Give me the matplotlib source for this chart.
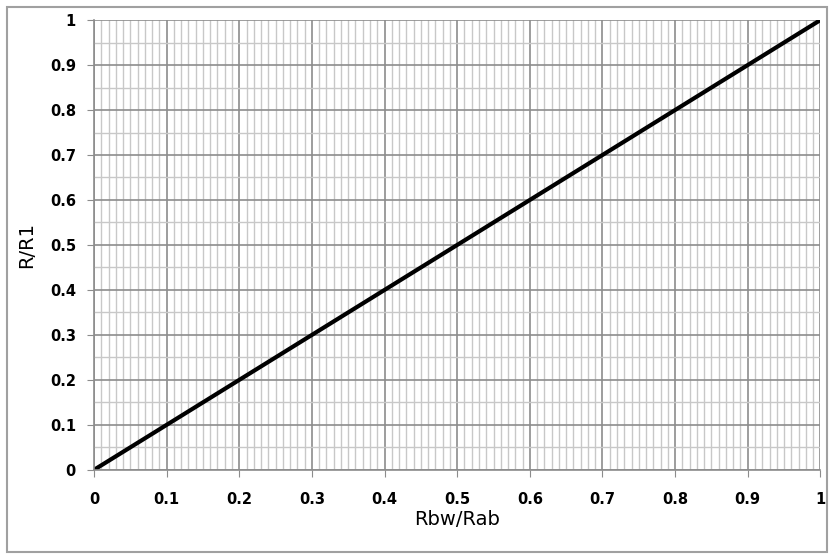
import matplotlib
matplotlib.use("Agg")
import matplotlib.pyplot as plt
from matplotlib.patches import Rectangle
from matplotlib.ticker import MultipleLocator
import numpy as np

# ratio data
rbw_rab = [0.0, 0.1, 0.2, 0.3, 0.4, 0.5, 0.6, 0.7, 0.8, 0.9, 1.0]
r_r1 = [0.0, 0.1, 0.2, 0.3, 0.4, 0.5, 0.6, 0.7, 0.8, 0.9, 1.0]

fig = plt.figure(figsize=(8.32, 5.58), dpi=100)
ax = fig.add_axes([0.113, 0.158, 0.873, 0.806])

# outer chart border
fig.patches.append(Rectangle((0.009, 0.01), 0.985, 0.978, transform=fig.transFigure,
                             fill=False, edgecolor="#a0a0a0", linewidth=1.5))

ax.plot(rbw_rab, r_r1, color="black", linewidth=3, solid_capstyle="round")

ax.set_xlim(0, 1)
ax.set_ylim(0, 1)
ax.xaxis.set_minor_locator(MultipleLocator(0.01))
ax.yaxis.set_minor_locator(MultipleLocator(0.05))
ax.grid(which="major", color="#8c8c8c", linewidth=1.2)
ax.grid(which="minor", color="#c8c8c8", linewidth=1.0)
ax.set_axisbelow(True)

for s in ["top", "right"]:
    ax.spines[s].set_visible(False)
for s in ["left", "bottom"]:
    ax.spines[s].set_color("#8c8c8c")
    ax.spines[s].set_linewidth(1.2)

ax.tick_params(which="major", direction="out", length=5, color="#8c8c8c", pad=8)
ax.tick_params(which="minor", length=0)
ax.xaxis.set_tick_params(pad=11)

ticks = np.round(np.arange(0, 1.01, 0.1), 1)
labels = ["0" if t == 0 else ("1" if t == 1 else f"{t:g}") for t in ticks]
ax.set_xticks(ticks)
ax.set_xticklabels(labels, fontweight="bold", fontsize=10.5)
ax.set_yticks(ticks)
ax.set_yticklabels(labels, fontweight="bold", fontsize=10.5)

ax.set_xlabel("Rbw/Rab", fontsize=14, labelpad=2)
ax.set_ylabel("R/R1", fontsize=14, labelpad=10)

fig.savefig("out.png", dpi=100)
